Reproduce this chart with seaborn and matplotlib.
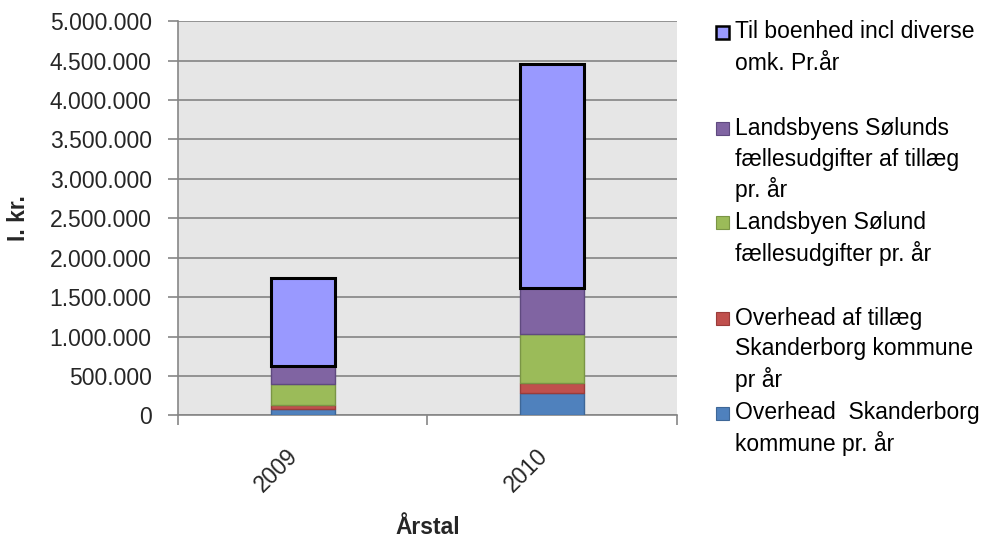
import numpy as np
import matplotlib
matplotlib.use("Agg")
import matplotlib.pyplot as plt
from matplotlib.patches import Rectangle
from matplotlib.ticker import FuncFormatter, FixedLocator
import seaborn as sns

# ==============================
# DATA
# ==============================

years = ["2009", "2010"]

overhead = [85000, 288000]
overhead_tillaeg = [42000, 122000]
faelles = [266000, 627000]
faelles_tillaeg = [229000, 583000]
boenhed = [1125000, 2834000]

series_labels = [
    "Overhead  Skanderborg\nkommune pr. år",
    "Overhead af tillæg\nSkanderborg kommune\npr år",
    "Landsbyen Sølund\nfællesudgifter pr. år",
    "Landsbyens Sølunds\nfællesudgifter af tillæg\npr. år",
    "Til boenhed incl diverse\nomk. Pr.år",
]
series_values = [overhead, overhead_tillaeg, faelles, faelles_tillaeg, boenhed]

y_ticks = np.arange(0, 5000001, 500000)

# ==============================
# STYLE
# ==============================

sns.set_theme(style="white")
plt.rcParams["font.family"] = ["Liberation Sans", "DejaVu Sans"]

colors = ["#4F81BD", "#C0504D", "#9BBB59", "#8064A2", "#9999FF"]
edges = ["#3E6797", "#9A3C3A", "#7A9545", "#5F4A7F", "#000000"]
widths = [1.0, 1.0, 1.0, 1.0, 2.2]

fs = 16.5

fig = plt.figure(figsize=(9.89, 5.40), dpi=100)
ax = fig.add_axes([0.18, 0.2306, 0.5045, 0.7304])
ax.set_facecolor("#E6E6E6")

# ==============================
# STACKED BARS
# ==============================

bottom = np.zeros(len(years))
for vals, col, ec, lw in zip(series_values, colors, edges, widths):
    sns.barplot(x=years, y=vals, bottom=bottom, color=col, saturation=1,
                width=0.256, edgecolor=ec, linewidth=lw, ax=ax, zorder=3)
    bottom = bottom + np.array(vals)

# ==============================
# AXES
# ==============================

ax.set_xlim(-0.5, 1.5)
ax.set_ylim(0, 5000000)
ax.set_yticks(y_ticks)
ax.yaxis.set_major_formatter(FuncFormatter(lambda v, p: f"{int(v):,}".replace(",", ".")))
ax.grid(axis="y", color="#8C8C8C", linewidth=1.3, zorder=0)
ax.set_axisbelow(True)

ax.xaxis.set_major_locator(FixedLocator([-0.5, 0.5, 1.5]))
ax.xaxis.set_minor_locator(FixedLocator([0, 1]))
ax.set_xticklabels(["", "", ""])
ax.set_xticklabels(years, minor=True, rotation=45, ha="right", fontsize=fs)
ax.tick_params(axis="x", which="major", length=7, width=1.2, color="#868686", direction="out", bottom=True)
ax.tick_params(axis="x", which="minor", length=0, pad=21)
ax.tick_params(axis="y", length=7, width=1.2, color="#868686", direction="out", left=True, labelsize=fs, pad=12)

for s in ["top", "right"]:
    ax.spines[s].set_visible(False)
for s in ["left", "bottom"]:
    ax.spines[s].set_color("#868686")
    ax.spines[s].set_linewidth(1.2)

ax.set_xlabel("Årstal", fontsize=fs, fontweight="bold", labelpad=14)
ax.set_ylabel("I. kr.", fontsize=fs, fontweight="bold", labelpad=14)

# ==============================
# LEGEND (reverse order, Excel style)
# ==============================

W, H = 989, 540
marker_y = [32, 128, 222, 318, 413]
line_h = 31
for i, idx in enumerate(range(len(series_labels) - 1, -1, -1)):
    yc = marker_y[i]
    fig.add_artist(Rectangle(((716) / W, 1 - (yc + 7) / H), 13 / W, 13 / H,
                             transform=fig.transFigure, facecolor=colors[idx],
                             edgecolor=edges[idx], linewidth=1.8 if idx == 4 else 0.8))
    for j, line in enumerate(series_labels[idx].split("\n")):
        fig.text(735 / W, 1 - (yc + j * line_h) / H, line, fontsize=fs,
                 va="center", ha="left", color="black")

fig.savefig("out.png", dpi=100)
